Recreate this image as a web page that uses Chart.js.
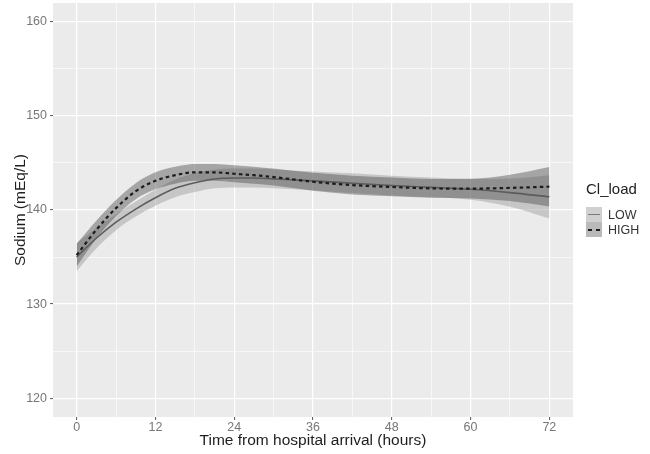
<!DOCTYPE html>
<html>
<head>
<meta charset="utf-8">
<script src="https://cdn.jsdelivr.net/npm/chart.js@4"></script>
<style>
  html, body { margin: 0; padding: 0; background: #fff; }
  #wrap { position: relative; width: 650px; height: 454px; }
  #legend { position: absolute; left: 586px; top: 180px; font-family: "Liberation Sans", Arial, sans-serif; color: #222; }
  #legend .title { font-size: 15px; line-height: 18px; margin-bottom: 9px; }
  #legend .row { display: flex; align-items: center; height: 15px; }
  #legend .key { position: relative; width: 16px; height: 15px; }
  #legend .key span { position: absolute; left: 2px; right: 2px; top: 6.5px; }
  #legend .lbl { font-size: 12.5px; color: #333; margin-left: 6px; }
</style>
</head>
<body>
<div id="wrap">
  <canvas id="chart" width="650" height="454"></canvas>
  <div id="legend"></div>
</div>
<script>
// Smoothed sodium over time, by chloride load group
const hours = [0, 3, 6, 9, 12, 15, 18, 21, 24, 27, 30, 36, 42, 48, 54, 60, 66, 72];

const lowFit   = [135.0, 137.0, 138.7, 140.1, 141.3, 142.3, 142.9, 143.3, 143.4, 143.4, 143.3, 143.1, 142.85, 142.6, 142.4, 142.2, 141.85, 141.4];
const lowLower = [133.5, 135.9, 137.85, 139.3, 140.45, 141.35, 141.9, 142.3, 142.4, 142.4, 142.3, 142.1, 141.8, 141.55, 141.35, 141.1, 140.35, 139.1];
const lowUpper = [136.5, 138.1, 139.55, 140.9, 142.15, 143.25, 143.9, 144.3, 144.4, 144.4, 144.3, 144.1, 143.9, 143.65, 143.45, 143.3, 143.35, 143.7];

const highFit   = [135.2, 137.9, 140.2, 142.0, 143.1, 143.7, 144.0, 144.0, 143.85, 143.7, 143.5, 143.0, 142.65, 142.45, 142.3, 142.27, 142.35, 142.48];
const highLower = [134.0, 136.95, 139.35, 141.15, 142.2, 142.8, 143.1, 143.1, 142.95, 142.8, 142.6, 142.05, 141.65, 141.45, 141.3, 141.22, 140.95, 140.38];
const highUpper = [136.4, 138.85, 141.05, 142.85, 144.0, 144.6, 144.9, 144.9, 144.75, 144.6, 144.4, 143.95, 143.65, 143.45, 143.3, 143.32, 143.75, 144.58];

const groups = ['LOW', 'HIGH'];
const xMajor = [0, 12, 24, 36, 48, 60, 72];
const xMinor = [6, 18, 30, 42, 54, 66];
const yMajor = [120, 130, 140, 150, 160];
const yMinor = [125, 135, 145, 155];

const FONT = '"Liberation Sans", Arial, sans-serif';
const bandLow = 'rgba(142, 142, 142, 0.4)';
const bandHigh = 'rgba(70, 70, 70, 0.42)';

const pts = (ys) => hours.map((h, i) => ({ x: h, y: ys[i] }));

const base = {
  pointRadius: 0,
  pointHoverRadius: 0,
  cubicInterpolationMode: 'monotone'
};

// grey panel behind the plot area
const panelBg = {
  id: 'panelBg',
  beforeDraw(chart) {
    const { ctx, chartArea: a } = chart;
    ctx.save();
    ctx.fillStyle = '#ebebeb';
    ctx.fillRect(a.left, a.top, a.right - a.left, a.bottom - a.top);
    ctx.restore();
  }
};

const setTicks = (major, minor) => (scale) => {
  scale.ticks = major.concat(minor).sort((a, b) => a - b).map(v => ({ value: v }));
};
const isMajor = (major) => (c) => c.tick && major.includes(c.tick.value);

const ctx = document.getElementById('chart').getContext('2d');
new Chart(ctx, {
  type: 'line',
  data: {
    datasets: [
      { ...base, label: 'low lower', data: pts(lowLower), borderWidth: 0, fill: false, order: 6 },
      { ...base, label: 'low upper', data: pts(lowUpper), borderWidth: 0, fill: { target: 0 }, backgroundColor: bandLow, order: 5 },
      { ...base, label: 'high lower', data: pts(highLower), borderWidth: 0, fill: false, order: 4 },
      { ...base, label: 'high upper', data: pts(highUpper), borderWidth: 0, fill: { target: 2 }, backgroundColor: bandHigh, order: 3 },
      { ...base, label: groups[0], data: pts(lowFit), borderColor: '#5c5c5c', borderWidth: 1.6, fill: false, order: 2 },
      { ...base, label: groups[1], data: pts(highFit), borderColor: '#1c1c1c', borderWidth: 2.2, borderDash: [3.5, 3.2], fill: false, order: 1 }
    ]
  },
  options: {
    responsive: false,
    animation: false,
    layout: { padding: { top: 3, right: 77, left: 0, bottom: 0 } },
    plugins: {
      legend: { display: false },
      tooltip: { enabled: false }
    },
    scales: {
      x: {
        type: 'linear',
        min: -3.6,
        max: 75.6,
        afterBuildTicks: setTicks(xMajor, xMinor),
        afterFit: (s) => { s.height = 37; s.paddingLeft = 0; s.paddingRight = 0; },
        border: { display: false },
        grid: {
          color: '#ffffff',
          lineWidth: (c) => isMajor(xMajor)(c) ? 1.2 : 0.6,
          tickLength: 3,
          tickColor: (c) => isMajor(xMajor)(c) ? '#555' : 'rgba(0,0,0,0)',
          tickWidth: 1
        },
        ticks: {
          autoSkip: false,
          maxRotation: 0,
          padding: 0,
          color: '#777',
          font: { family: FONT, size: 12.5 },
          callback: (v) => xMajor.includes(v) ? String(v) : ''
        },
        title: {
          display: true,
          text: 'Time from hospital arrival (hours)',
          color: '#1e1e1e',
          font: { family: FONT, size: 15.5 },
          padding: { top: 0, bottom: 4 }
        }
      },
      y: {
        type: 'linear',
        min: 118,
        max: 162,
        afterBuildTicks: setTicks(yMajor, yMinor),
        afterFit: (s) => { s.width = 53; s.paddingTop = 0; s.paddingBottom = 0; },
        border: { display: false },
        grid: {
          color: '#ffffff',
          lineWidth: (c) => isMajor(yMajor)(c) ? 1.2 : 0.6,
          tickLength: 3,
          tickColor: (c) => isMajor(yMajor)(c) ? '#555' : 'rgba(0,0,0,0)',
          tickWidth: 1
        },
        ticks: {
          autoSkip: false,
          padding: 3,
          color: '#777',
          font: { family: FONT, size: 12.5 },
          callback: (v) => yMajor.includes(v) ? String(v) : ''
        },
        title: {
          display: true,
          text: 'Sodium (mEq/L)',
          color: '#1e1e1e',
          font: { family: FONT, size: 15.5 },
          padding: { top: 11, bottom: 0 }
        }
      }
    }
  },
  plugins: [panelBg]
});

// ggplot-style legend on the right
const legend = document.getElementById('legend');
legend.innerHTML =
  '<div class="title">Cl_load</div>' +
  '<div class="row"><div class="key" style="background:#d0d0d0"><span style="height:1.5px;background:#7a7a7a"></span></div><div class="lbl">' + groups[0] + '</div></div>' +
  '<div class="row"><div class="key" style="background:#b9b9b9"><span style="height:2px;background:repeating-linear-gradient(90deg,#1c1c1c 0 4px,transparent 4px 8px)"></span></div><div class="lbl">' + groups[1] + '</div></div>';
</script>
</body>
</html>
